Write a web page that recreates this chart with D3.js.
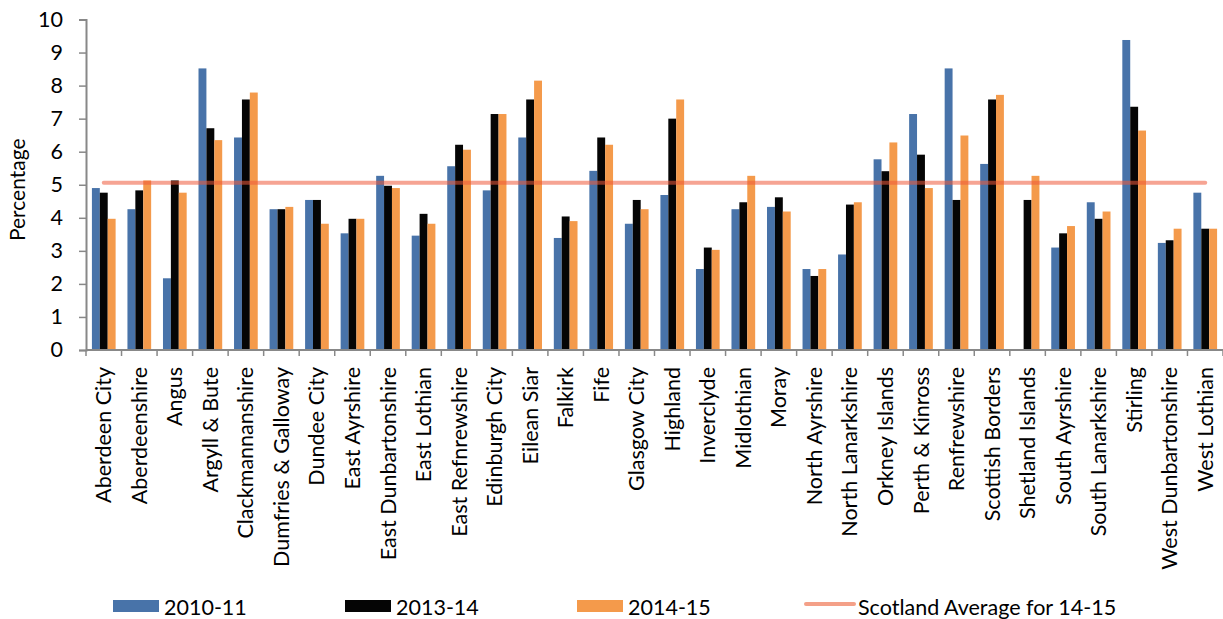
<!DOCTYPE html>
<html>
<head>
<meta charset="utf-8">
<script src="https://cdn.jsdelivr.net/npm/d3@7"></script>
<style>
  html, body { margin: 0; padding: 0; background: #fff; }
  svg { display: block; font-family: Lato, "Open Sans", sans-serif; }
</style>
</head>
<body>
<svg id="chart" width="1223" height="619"></svg>
<script>
// Council areas shown along the x axis
const categories = [
  "Aberdeen City", "Aberdeenshire", "Angus", "Argyll & Bute", "Clackmannanshire",
  "Dumfries & Galloway", "Dundee City", "East Ayrshire", "East Dunbartonshire",
  "East Lothian", "East Refnrewshire", "Edinburgh City", "Eilean Siar", "Falkirk",
  "Fife", "Glasgow City", "Highland", "Inverclyde", "Midlothian", "Moray",
  "North Ayrshire", "North Lanarkshire", "Orkney Islands", "Perth & Kinross",
  "Renfrewshire", "Scottish Borders", "Shetland Islands", "South Ayrshire",
  "South Lanarkshire", "Stirling", "West Dunbartonshire", "West Lothian"
];

// Percentage per council area and year (null = no value)
const values2010_11 = [
  4.90, 4.26, 2.17, 8.52, 6.43, 4.26, 4.54, 3.53, 5.27, 3.46, 5.56, 4.83, 6.43, 3.39,
  5.42, 3.82, 4.69, 2.45, 4.26, 4.33, 2.45, 2.89, 5.77, 7.14, 8.52, 5.63, null, 3.10,
  4.47, 9.38, 3.24, 4.76
];
const values2013_14 = [
  4.76, 4.83, 5.13, 6.71, 7.58, 4.26, 4.54, 3.97, 4.97, 4.12, 6.21, 7.14, 7.58, 4.04,
  6.43, 4.54, 7.00, 3.10, 4.47, 4.62, 2.24, 4.40, 5.41, 5.91, 4.54, 7.58, 4.54, 3.53,
  3.97, 7.36, 3.32, 3.67
];
const values2014_15 = [
  3.97, 5.13, 4.76, 6.35, 7.79, 4.33, 3.82, 3.97, 4.90, 3.82, 6.06, 7.14, 8.15, 3.90,
  6.21, 4.26, 7.58, 3.03, 5.27, 4.19, 2.45, 4.47, 6.28, 4.90, 6.49, 7.72, 5.27, 3.75,
  4.19, 6.64, 3.67, 3.67
];
const scotlandAverage = 5.06;

const seriesNames = ["2010-11", "2013-14", "2014-15"];
const seriesColors = ["#4873A9", "#050505", "#F49A4B"];
const averageName = "Scotland Average for 14-15";
const yTicks = [0, 1, 2, 3, 4, 5, 6, 7, 8, 9, 10];
const yLabel = "Percentage";

const series = [values2010_11, values2013_14, values2014_15];

const svg = d3.select("#chart");
const plot = { left: 86, right: 1223, top: 19.5, bottom: 350 };

const x0 = d3.scaleBand()
  .domain(categories)
  .range([plot.left, plot.right])
  .paddingInner(0.333)
  .paddingOuter(0.1665);

const x1 = d3.scaleBand()
  .domain(seriesNames)
  .range([0, x0.bandwidth()]);

const y = d3.scaleLinear().domain([0, 10]).range([plot.bottom, plot.top]);

// Bars
const groups = svg.append("g").selectAll("g")
  .data(categories)
  .join("g")
  .attr("transform", d => `translate(${x0(d)},0)`);

groups.selectAll("rect")
  .data((c, i) => series.map((s, k) => ({ name: seriesNames[k], v: s[i], color: seriesColors[k] })))
  .join("rect")
  .filter(d => d.v != null)
  .attr("x", d => x1(d.name))
  .attr("width", x1.bandwidth())
  .attr("y", d => y(d.v))
  .attr("height", d => y(0) - y(d.v))
  .attr("fill", d => d.color);

// Scotland average line, spanning first to last category centre
const half = x0.bandwidth() / 2;
svg.append("line")
  .attr("x1", x0(categories[0]) + half)
  .attr("x2", x0(categories[categories.length - 1]) + half)
  .attr("y1", y(scotlandAverage))
  .attr("y2", y(scotlandAverage))
  .attr("stroke", "#EE5A3A")
  .attr("stroke-opacity", 0.55)
  .attr("stroke-width", 4)
  .attr("stroke-linecap", "round");

// Y axis
const yAxis = svg.append("g")
  .attr("transform", `translate(${plot.left},0)`)
  .call(d3.axisLeft(y).tickValues(yTicks).tickSize(7).tickPadding(16).tickFormat(d3.format("d")));
yAxis.select(".domain").attr("stroke", "#888").attr("stroke-width", 2);
yAxis.selectAll(".tick line").attr("stroke", "#888").attr("stroke-width", 1.5);
yAxis.selectAll(".tick text").attr("font-size", 21.5).attr("fill", "#000")
  .attr("font-family", "Lato, 'Open Sans', sans-serif");

// X axis: line with ticks at category boundaries
const step = x0.step();
const xAxis = svg.append("g");
xAxis.append("line")
  .attr("x1", plot.left).attr("x2", plot.right)
  .attr("y1", y(0)).attr("y2", y(0))
  .attr("stroke", "#888").attr("stroke-width", 2);
xAxis.selectAll("line.tick")
  .data(d3.range(categories.length + 1))
  .join("line")
  .attr("class", "tick")
  .attr("x1", i => plot.left + i * step)
  .attr("x2", i => plot.left + i * step)
  .attr("y1", y(0)).attr("y2", y(0) + 6)
  .attr("stroke", "#888").attr("stroke-width", 1.5);

xAxis.selectAll("text")
  .data(categories)
  .join("text")
  .attr("transform", d => `translate(${x0(d) + half},${y(0) + 17}) rotate(-90)`)
  .attr("text-anchor", "end")
  .attr("dy", "0.35em")
  .attr("font-size", 21.5)
  .attr("fill", "#000")
  .text(d => d);

// Y axis title
svg.append("text")
  .attr("transform", `translate(18,${(plot.top + plot.bottom) / 2 + 5}) rotate(-90)`)
  .attr("text-anchor", "middle")
  .attr("dy", "0.35em")
  .attr("font-size", 21)
  .attr("fill", "#000")
  .text(yLabel);

// Legend
const legendX = [113, 345, 577, 806];
const legendY = 606;
const legend = svg.append("g");
seriesNames.forEach((name, k) => {
  legend.append("rect")
    .attr("x", legendX[k]).attr("y", legendY - 6)
    .attr("width", 46).attr("height", 12)
    .attr("fill", seriesColors[k]);
  legend.append("text")
    .attr("x", legendX[k] + 51).attr("y", legendY + 1)
    .attr("dy", "0.35em")
    .attr("font-size", 21.5)
    .text(name);
});
legend.append("line")
  .attr("x1", legendX[3]).attr("x2", legendX[3] + 48)
  .attr("y1", legendY - 2).attr("y2", legendY - 2)
  .attr("stroke", "#F4A088").attr("stroke-width", 4).attr("stroke-linecap", "round");
legend.append("text")
  .attr("x", legendX[3] + 52).attr("y", legendY + 1)
  .attr("dy", "0.35em")
  .attr("font-size", 21.5)
  .text(averageName);
</script>
</body>
</html>
